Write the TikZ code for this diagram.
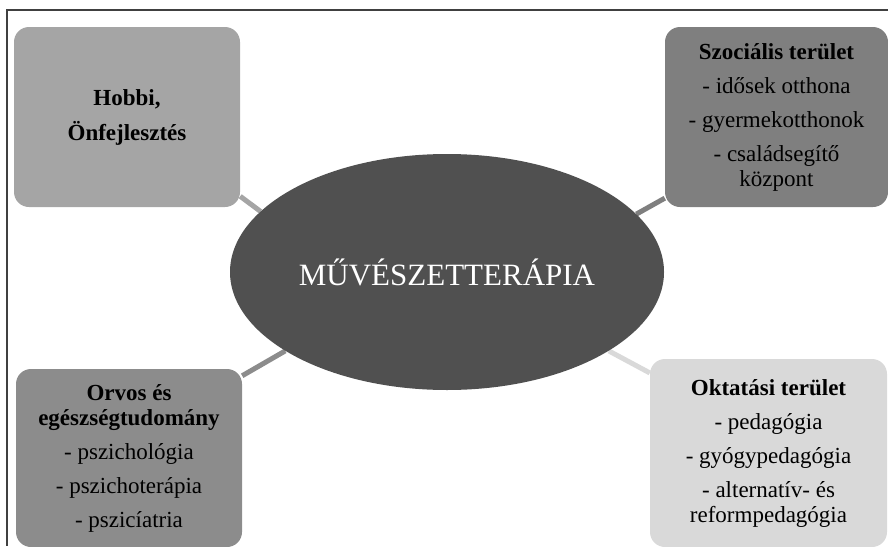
\documentclass[tikz,border=0pt]{standalone}
\usepackage{fontspec}
\setmainfont{Liberation Serif}
\usetikzlibrary{shapes.geometric,backgrounds}

\definecolor{framegray}{HTML}{404040}
\definecolor{hubgray}{HTML}{505050}
\definecolor{hobbigray}{HTML}{A5A5A5}
\definecolor{szocgray}{HTML}{7F7F7F}
\definecolor{orvosgray}{HTML}{8C8C8C}
\definecolor{oktgray}{HTML}{D9D9D9}

\tikzset{
  areabox/.style={rounded corners=15pt, draw=none, align=center, inner sep=0pt,
    font=\fontsize{23}{25}\selectfont, text=black},
  hub/.style={ellipse, fill=hubgray, draw=none, inner sep=0pt,
    minimum width=434pt, minimum height=236pt,
    font=\fontsize{31}{36}\selectfont, text=white},
  link/.style={line width=5pt, line cap=butt},
  frameline/.style={draw=framegray, line width=2pt}
}

\begin{document}
\begin{tikzpicture}[x=1pt,y=-1pt]
\useasboundingbox (0,0) rectangle (888,546);

% outer frame (open on the right and at the bottom)
\coordinate (frTR) at (888,10);
\coordinate (frTL) at (7,10);
\coordinate (frBL) at (7,546);
\draw[frameline] (frTR) -- (frTL) -- (frBL);

% central hub
\node[hub] (hub) at (447,272) {MŰVÉSZETTERÁPIA};

% four application areas
\node[areabox, fill=hobbigray, minimum width=226pt, minimum height=180pt]
  (hobbi) at (127,117) {\textbf{Hobbi,}\\[10pt]\textbf{Önfejlesztés}};

\node[areabox, fill=szocgray, minimum width=223pt, minimum height=180pt]
  (szoc) at (776.5,117) {\textbf{Szociális terület}\\[9pt]
  - idősek otthona\\[9pt]
  - gyermekotthonok\\[9pt]
  - családsegítő\\ központ};

\node[areabox, fill=orvosgray, minimum width=226pt, minimum height=178pt]
  (orvos) at (129,458) {\textbf{Orvos és}\\ \textbf{egészségtudomány}\\[9pt]
  - pszichológia\\[9pt]
  - pszichoterápia\\[9pt]
  - pszicíatria};

\node[areabox, fill=oktgray, minimum width=237pt, minimum height=188pt]
  (okt) at (768.5,453) {\textbf{Oktatási terület}\\[9pt]
  - pedagógia\\[9pt]
  - gyógypedagógia\\[9pt]
  - alternatív- és\\ reformpedagógia};

% connectors from each area to the hub
\begin{pgfonlayer}{background}
  \draw[link, draw=hobbigray] (hobbi.-35) -- (hub.162);
  \draw[link, draw=szocgray]  (szoc.216)  -- (hub.17.5);
  \draw[link, draw=orvosgray] (orvos.36)  -- (hub.206);
  \draw[link, draw=oktgray]   (okt.146)   -- (hub.-26.6);
\end{pgfonlayer}
\end{tikzpicture}
\end{document}
